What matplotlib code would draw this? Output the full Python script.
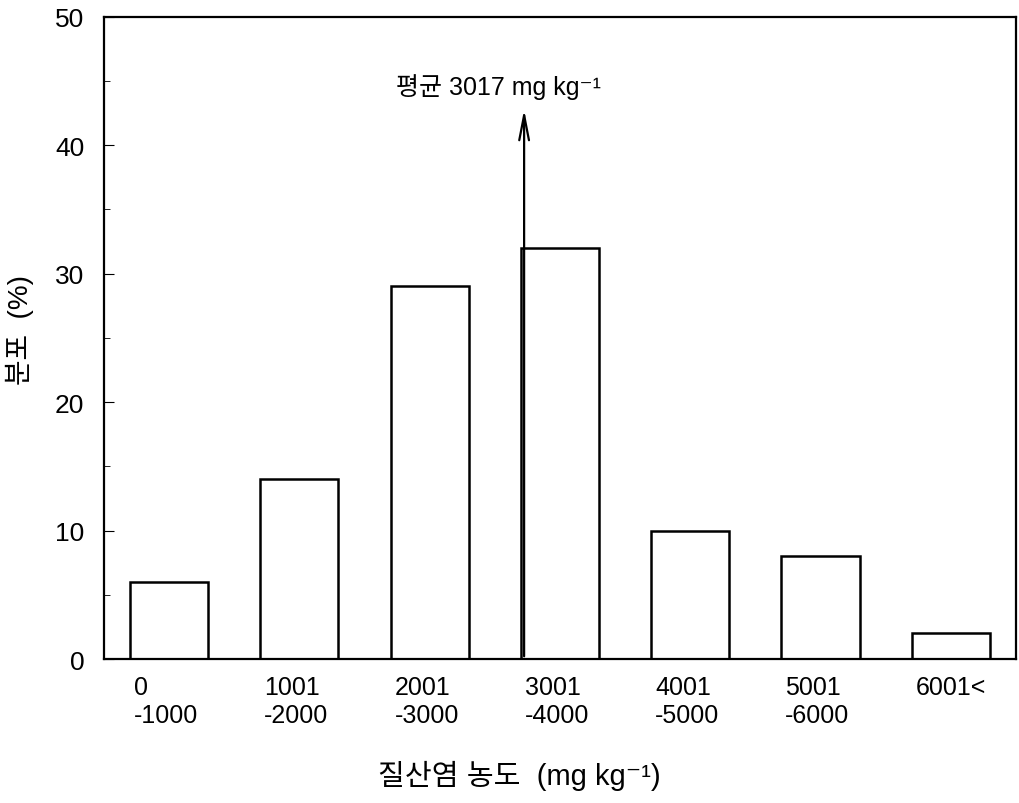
import matplotlib
matplotlib.use("Agg")
import matplotlib.pyplot as plt
from matplotlib.ticker import MultipleLocator

plt.rcParams['font.family'] = ['Liberation Sans', 'Noto Sans CJK KR', 'DejaVu Sans']

# nitrate concentration classes and share of samples (%)
ranges = ["0\n-1000", "1001\n-2000", "2001\n-3000", "3001\n-4000",
          "4001\n-5000", "5001\n-6000", "6001<"]
percent = [6, 14, 29, 32, 10, 8, 2]
mean_value = 3017
arrow_top = 43.0

fig = plt.figure(figsize=(10.19, 8.04), dpi=100)
ax = fig.add_axes([0.102, 0.179, 0.895, 0.799])

width = 0.6
xs = list(range(len(percent)))
ax.bar(xs, percent, width=width, color="white", edgecolor="black", linewidth=1.8)

ax.set_xlim(-0.5, 6.5)
ax.set_ylim(0, 50)
ax.yaxis.set_major_locator(MultipleLocator(10))
ax.yaxis.set_minor_locator(MultipleLocator(5))
ax.tick_params(axis="y", which="both", direction="in", labelsize=19, pad=14)
ax.tick_params(axis="y", which="major", length=7)
ax.tick_params(axis="y", which="minor", length=4)
ax.set_xticks([])
for s in ax.spines.values():
    s.set_linewidth(1.6)

# class labels, left aligned under each bar
for x, lab in zip(xs, ranges):
    ax.text(x - width / 2 + 0.03, -1.2, lab, ha="left", va="top",
            fontsize=18, linespacing=1.25)

# mean marker sits just inside the 3001-4000 bar
mean_x = 3 - width / 2 + 0.025
ax.annotate("", xy=(mean_x, arrow_top), xytext=(mean_x, 0),
            arrowprops=dict(arrowstyle="->,head_length=1.8,head_width=0.35",
                            color="black", lw=1.6))
ax.text(mean_x - 0.2, 44.6, f"평균 {mean_value} mg kg⁻¹", ha="center", va="center",
        fontsize=18)

fig.text(0.02, 0.59, "분포  (%)", rotation=90, ha="center", va="center", fontsize=20)
fig.text(0.51, 0.035, "질산염 농도  (mg kg⁻¹)", ha="center", va="center", fontsize=21)

fig.savefig("out.png", dpi=100)
